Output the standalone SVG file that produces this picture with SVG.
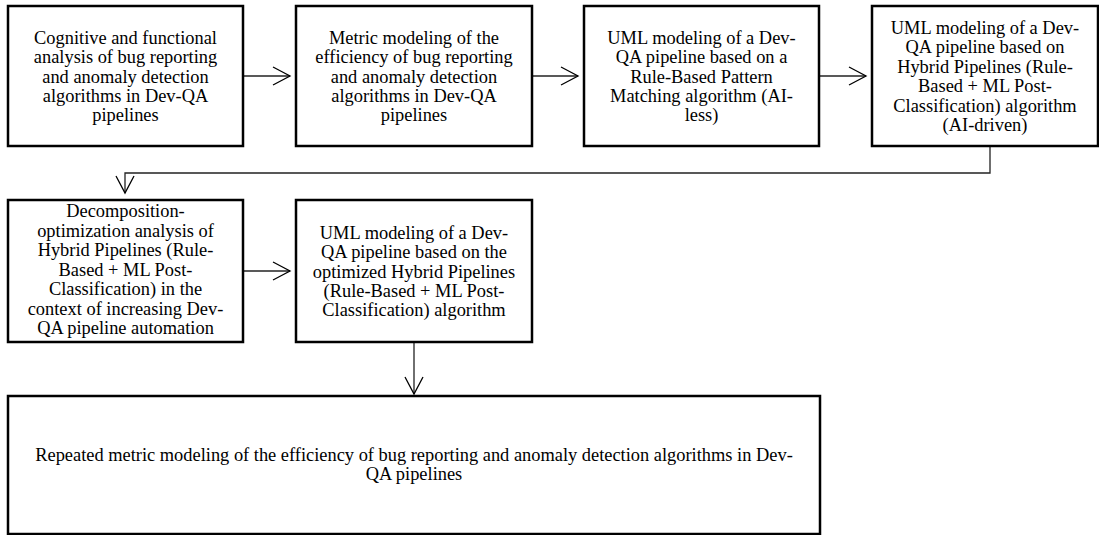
<svg xmlns="http://www.w3.org/2000/svg" width="1099" height="535" viewBox="0 0 1099 535">
<style>
.box{fill:#fff;stroke:#000;stroke-width:2.5}
.t{font-family:'Liberation Serif','Times New Roman',Times,serif;font-size:18.4px;fill:#000;text-anchor:middle}
.c{fill:none;stroke:#222;stroke-width:1.3}
</style>
<defs>
<marker id="ah" viewBox="0 0 20 20" refX="18" refY="10" markerWidth="20" markerHeight="20" markerUnits="userSpaceOnUse" orient="auto">
<path d="M1,1 L18,10 L1,19" fill="none" stroke="#000" stroke-width="1.3"/>
</marker>
</defs>
<g id="connectors">
<path class="c" d="M243,76 H290" marker-end="url(#ah)"/>
<path class="c" d="M532,76 H578" marker-end="url(#ah)"/>
<path class="c" d="M819,76 H866" marker-end="url(#ah)"/>
<path class="c" d="M990,146 V173 H125 V193" marker-end="url(#ah)"/>
<path class="c" d="M243,271 H290" marker-end="url(#ah)"/>
<path class="c" d="M414,342 V394" marker-end="url(#ah)"/>
</g>
<g id="n1">
<rect class="box" x="8" y="6" width="235" height="140"/>
<text class="t" x="125.5" y="44"><tspan x="125.5">Cognitive and functional</tspan><tspan x="125.5" dy="19.3">analysis of bug reporting</tspan><tspan x="125.5" dy="19.3">and anomaly detection</tspan><tspan x="125.5" dy="19.3">algorithms in Dev-QA</tspan><tspan x="125.5" dy="19.3">pipelines</tspan></text>
</g>
<g id="n2">
<rect class="box" x="296" y="6" width="236" height="140"/>
<text class="t" x="414" y="44"><tspan x="414">Metric modeling of the</tspan><tspan x="414" dy="19.3">efficiency of bug reporting</tspan><tspan x="414" dy="19.3">and anomaly detection</tspan><tspan x="414" dy="19.3">algorithms in Dev-QA</tspan><tspan x="414" dy="19.3">pipelines</tspan></text>
</g>
<g id="n3">
<rect class="box" x="584" y="6" width="235" height="140"/>
<text class="t" x="701.5" y="44"><tspan x="701.5">UML modeling of a Dev-</tspan><tspan x="701.5" dy="19.3">QA pipeline based on a</tspan><tspan x="701.5" dy="19.3">Rule-Based Pattern</tspan><tspan x="701.5" dy="19.3">Matching algorithm (AI-</tspan><tspan x="701.5" dy="19.3">less)</tspan></text>
</g>
<g id="n4">
<rect class="box" x="872" y="6" width="226" height="140"/>
<text class="t" x="985" y="33.5"><tspan x="985">UML modeling of a Dev-</tspan><tspan x="985" dy="19.5">QA pipeline based on</tspan><tspan x="985" dy="19.5">Hybrid Pipelines (Rule-</tspan><tspan x="985" dy="19.5">Based + ML Post-</tspan><tspan x="985" dy="19.5">Classification) algorithm</tspan><tspan x="985" dy="19.5">(AI-driven)</tspan></text>
</g>
<g id="n5">
<rect class="box" x="8" y="200" width="235" height="142"/>
<text class="t" x="125.5" y="217"><tspan x="125.5">Decomposition-</tspan><tspan x="125.5" dy="19.5">optimization analysis of</tspan><tspan x="125.5" dy="19.5">Hybrid Pipelines (Rule-</tspan><tspan x="125.5" dy="19.5">Based + ML Post-</tspan><tspan x="125.5" dy="19.5">Classification) in the</tspan><tspan x="125.5" dy="19.5">context of increasing Dev-</tspan><tspan x="125.5" dy="19.5">QA pipeline automation</tspan></text>
</g>
<g id="n6">
<rect class="box" x="296" y="200" width="236" height="142"/>
<text class="t" x="414" y="239"><tspan x="414">UML modeling of a Dev-</tspan><tspan x="414" dy="19.3">QA pipeline based on the</tspan><tspan x="414" dy="19.3">optimized Hybrid Pipelines</tspan><tspan x="414" dy="19.3">(Rule-Based + ML Post-</tspan><tspan x="414" dy="19.3">Classification) algorithm</tspan></text>
</g>
<g id="n7">
<rect class="box" x="8" y="396" width="812" height="138"/>
<text class="t" x="414" y="461"><tspan x="414">Repeated metric modeling of the efficiency of bug reporting and anomaly detection algorithms in Dev-</tspan><tspan x="414" dy="19.3">QA pipelines</tspan></text>
</g>
</svg>
